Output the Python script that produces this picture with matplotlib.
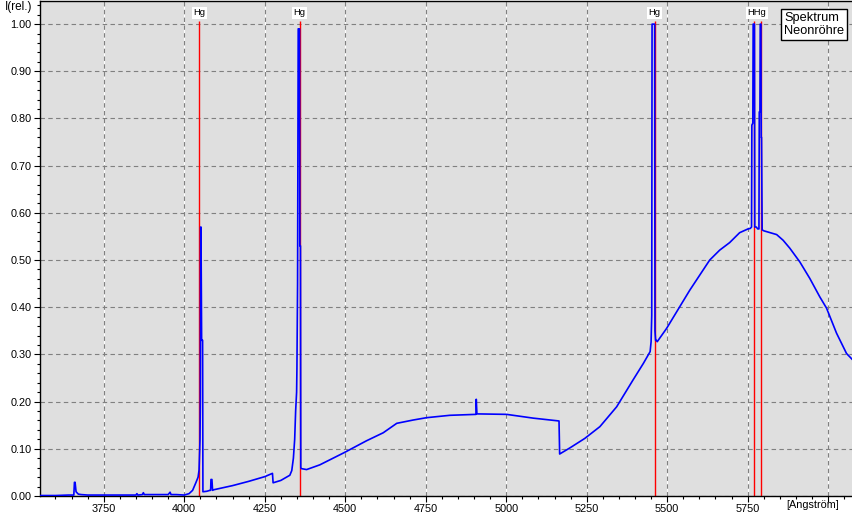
#!/usr/bin/env python3
# -*- coding: utf-8 -*-

import matplotlib

matplotlib.use("Agg")
import matplotlib.pyplot as plt
from matplotlib.ticker import MultipleLocator, FixedLocator

# spectrum of the neon tube (wavelength in Angstrom, relative intensity)
wavelength = [
    3552, 3600, 3640, 3657, 3659, 3661, 3664, 3671, 3680, 3700, 3750, 3800,
    3850, 3853, 3856, 3870, 3873, 3876, 3900, 3950, 3956, 3959, 3975, 4000,
    4015, 4026, 4036, 4043, 4046, 4049, 4050, 4051, 4052, 4054, 4055, 4057,
    4058, 4070, 4080, 4082, 4083, 4086, 4088, 4090, 4150, 4200, 4250, 4274,
    4276, 4300, 4328, 4334, 4339, 4343, 4346, 4349, 4350, 4352, 4354, 4358,
    4359, 4361, 4362, 4364, 4380, 4421, 4497, 4566, 4618, 4660, 4711, 4753,
    4825, 4903, 4906, 4907, 4909, 5001, 5084, 5164, 5166, 5198, 5244, 5291,
    5343, 5394, 5426, 5447, 5450, 5452, 5453, 5461, 5462, 5464, 5466, 5469,
    5498, 5539, 5570, 5601, 5632, 5663, 5694, 5725, 5751, 5758, 5762, 5763,
    5766, 5767, 5771, 5772, 5777, 5781, 5785, 5786, 5788, 5789, 5791, 5792,
    5793, 5795, 5800, 5840, 5860, 5881, 5912, 5943, 5974, 5995, 6026, 6057,
    6074,
]
intensity = [
    0.001, 0.001, 0.002, 0.002, 0.029, 0.029, 0.009, 0.004, 0.003, 0.002,
    0.002, 0.002, 0.002, 0.005, 0.002, 0.003, 0.007, 0.003, 0.003, 0.003,
    0.008, 0.003, 0.003, 0.002, 0.005, 0.012, 0.028, 0.040, 0.055, 0.120,
    0.200, 0.570, 0.570, 0.330, 0.330, 0.330, 0.009, 0.010, 0.012, 0.012,
    0.035, 0.035, 0.012, 0.013, 0.022, 0.031, 0.041, 0.048, 0.028, 0.033,
    0.044, 0.054, 0.080, 0.120, 0.180, 0.220, 0.270, 0.450, 0.990, 0.990,
    0.530, 0.530, 0.060, 0.058, 0.056, 0.066, 0.092, 0.117, 0.134, 0.154,
    0.161, 0.166, 0.171, 0.173, 0.173, 0.205, 0.174, 0.173, 0.165, 0.159,
    0.089, 0.102, 0.122, 0.147, 0.189, 0.246, 0.281, 0.306, 0.327, 0.383,
    1.000, 1.000, 0.350, 0.330, 0.330, 0.327, 0.355, 0.401, 0.436, 0.468,
    0.500, 0.521, 0.537, 0.558, 0.566, 0.567, 0.570, 0.786, 0.790, 1.000,
    1.000, 0.570, 0.570, 0.566, 0.566, 0.814, 0.814, 1.000, 1.000, 0.760,
    0.760, 0.564, 0.562, 0.554, 0.542, 0.525, 0.496, 0.461, 0.422, 0.398,
    0.345, 0.302, 0.290,
]

# mercury reference lines; the two close lines share one label "HHg"
hg_lines = [4047, 4358, 5461, 5770, 5791]
label_pos = [4047, 4358, 5461, 5778]
labels = ["Hg", "Hg", "Hg", "HHg"]

y_ticks = [0.0, 0.1, 0.2, 0.3, 0.4, 0.5, 0.6, 0.7, 0.8, 0.9, 1.0]
x_ticks = [3750, 4000, 4250, 4500, 4750, 5000, 5250, 5500, 5750, 6000]
x_tick_labels = ["3750", "4000", "4250", "4500", "4750", "5000", "5250",
                 "5500", "5750", ""]


def plot_spectrum():
    plt.rcParams["font.family"] = ["Liberation Sans", "DejaVu Sans"]

    fig = plt.figure(figsize=(8.52, 5.18), dpi=100)
    ax = fig.add_axes([40 / 852, 22 / 518, 812 / 852, 495 / 518])
    ax.set_facecolor("#dfdfdf")

    ax.set_xlim(3552, 6074)
    ax.set_ylim(0, 1.049)

    # grid: vertical lines white with grey dashes, horizontal grey dashes
    for xt in x_ticks:
        ax.axvline(xt, color="white", lw=0.8, zorder=0.5)
    ax.grid(True, color="#808080", lw=0.8, linestyle=(0, (4, 3)), zorder=0.6)
    ax.set_axisbelow(True)

    ax.vlines(hg_lines, 0, 1.006, color="red", lw=1.0, zorder=2)
    for pos, lab in zip(label_pos, labels):
        ax.text(pos, 1.024, lab, ha="center", va="center", fontsize=6.8,
                zorder=5,
                bbox=dict(facecolor="white", edgecolor="none", pad=1.2))

    ax.plot(wavelength, intensity, color="#0000ff", lw=1.2, zorder=3)

    ax.yaxis.set_major_locator(FixedLocator(y_ticks))
    ax.yaxis.set_minor_locator(MultipleLocator(0.02))
    ax.set_yticklabels(["%.2f" % v for v in y_ticks])
    ax.xaxis.set_major_locator(FixedLocator(x_ticks))
    ax.xaxis.set_minor_locator(MultipleLocator(50))
    ax.set_xticklabels(x_tick_labels)

    ax.tick_params(which="major", length=4, width=0.8, pad=2, labelsize=7.8,
                   direction="out")
    ax.tick_params(which="minor", length=2, width=0.8, direction="out")

    for side in ["left", "bottom", "top"]:
        ax.spines[side].set_color("black")
        ax.spines[side].set_linewidth(1.0)
    ax.spines["right"].set_visible(False)

    ax.text(6034, -0.008, "[Angström]", transform=ax.get_xaxis_transform(),
            ha="right", va="top", fontsize=7.8)
    fig.text(19 / 852, 1 - 7 / 518, "I(rel.)", ha="center", va="center",
             fontsize=8.5)

    ax.text((784 - 40) / 812, 0.978, "Spektrum\nNeonröhre",
            transform=ax.transAxes, ha="left", va="top", fontsize=9.2,
            linespacing=1.1, zorder=6,
            bbox=dict(facecolor="white", edgecolor="black", lw=1.0, pad=2.2))

    fig.savefig("out.png", dpi=100)


def main():
    plot_spectrum()


if __name__ == "__main__":
    main()
